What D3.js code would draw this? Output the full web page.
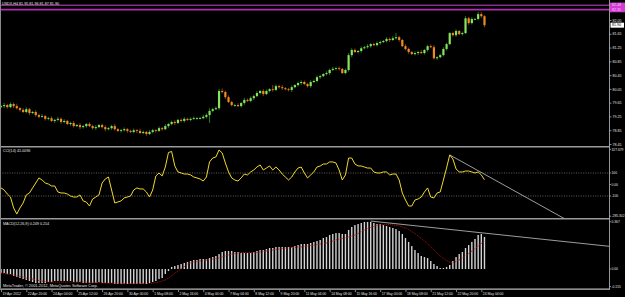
<!doctype html>
<html lang="en">
<head>
<meta charset="utf-8">
<title>USDX,H4</title>
<style>
  body { margin: 0; background: #000; }
  svg { display: block; }
  text { font-family: "Liberation Sans", sans-serif; fill: #e2e2e2; }
  .axis text { font-size: 3.6px; fill: #e2e2e2; }
  .axis line { stroke: #bdbdbd; stroke-width: 0.7; }
  .axis path { display: none; }
  .side text { font-size: 3.3px; }
  .lbl { font-size: 3.7px; }
</style>
</head>
<body>
<div class="chart"></div>
<script src="https://d3js.org/d3.v7.min.js"></script>
<script>
'use strict';

// ---- data ----
const firstOpen = 79.52;
const closes = [
  79.55,79.58,79.52,79.61,79.55,79.49,79.44,79.38,79.46,79.35,79.38,79.29,79.24,79.26,79.18,79.20,79.12,79.15,79.18,79.09,
  79.12,79.03,79.06,78.97,79.00,78.94,78.97,79.03,78.97,78.91,78.94,79.00,78.94,78.88,78.91,78.97,78.88,78.83,78.85,78.88,
  78.83,78.80,78.85,78.83,78.77,78.80,78.74,78.80,78.85,78.83,78.91,78.88,78.97,79.03,79.09,79.06,79.15,79.12,79.18,79.15,
  79.18,79.20,79.20,79.20,79.24,79.29,79.41,79.46,79.49,79.99,79.96,79.81,79.67,79.58,79.58,79.55,79.64,79.73,79.70,79.78,
  79.84,79.93,79.99,79.90,79.99,80.04,80.02,80.13,80.10,80.07,80.04,80.02,80.10,80.16,80.22,80.25,80.19,80.13,80.25,80.28,
  80.39,80.42,80.48,80.51,80.60,80.63,80.65,80.63,80.51,80.60,81.03,81.18,81.12,81.15,81.23,81.26,81.29,81.35,81.32,81.38,
  81.41,81.44,81.50,81.47,81.52,81.55,81.47,81.29,81.21,81.12,81.06,81.09,81.12,81.09,81.18,81.29,81.26,80.94,80.97,81.03,
  81.21,81.35,81.67,81.61,81.73,81.64,81.67,82.10,81.96,82.08,82.08,82.22,82.16,81.90
];
// wick lengths above / below the body, in pips (0.01)
const wickUp = [
  4,6,3,5,4,7,3,5,6,4,3,5,4,6,3,4,5,3,6,4,
  5,3,4,6,3,5,4,3,5,4,6,3,4,5,3,4,6,3,4,5,
  3,4,5,3,6,4,3,5,4,3,5,4,6,3,4,5,3,4,5,3,
  4,5,3,4,6,5,8,4,5,6,7,4,5,3,4,5,3,6,4,5,
  4,6,3,5,4,3,12,5,4,6,3,4,5,3,4,5,4,3,5,4,
  5,4,3,5,4,6,4,5,3,4,6,5,4,3,5,4,6,3,4,5,
  4,3,5,4,6,12,4,3,5,4,3,5,4,6,3,4,5,6,3,4,
  5,4,3,4,5,3,4,6,4,5,3,7,6,3
];
const wickDn = [
  3,5,4,3,6,4,5,3,4,6,3,5,4,3,5,4,3,6,4,5,
  4,3,5,4,3,6,4,5,3,4,5,3,4,6,3,5,4,3,5,4,
  5,3,4,6,3,4,5,3,4,5,3,4,3,5,4,6,3,4,5,3,
  4,3,5,4,3,5,23,4,3,5,4,6,3,4,5,3,4,5,3,4,
  5,3,4,6,3,4,5,3,4,5,3,4,6,3,4,5,3,4,5,3,
  4,5,3,4,6,3,4,5,3,4,5,6,3,4,5,3,4,5,3,4,
  5,3,4,6,3,4,5,3,4,5,3,4,6,3,4,5,3,4,5,3,
  4,5,3,4,5,3,4,3,5,4,3,4,5,6
];
const cci = [
  -30,-48,-83,-109,-204,-257,-204,-161,-91,-74,-30,13,57,39,13,4,-13,-13,-65,-74,
  -74,-83,-100,-109,-109,-91,-143,-152,-187,-126,-109,-91,13,48,65,-48,-161,-152,-143,-117,
  -109,-100,-48,-30,-39,-39,-65,-109,-48,74,100,74,152,278,287,161,109,100,91,91,
  83,65,57,48,30,65,196,230,239,300,274,187,109,57,39,30,57,91,83,109,
  126,152,170,126,143,161,126,152,126,91,65,39,65,109,143,152,100,57,83,109,
  152,161,178,178,196,196,187,126,39,83,230,230,178,161,161,152,143,143,109,100,
  100,109,109,83,91,91,39,-74,-135,-187,-187,-135,-126,-109,-65,-30,-109,-117,-74,-65,
  39,143,257,222,135,109,109,117,117,109,100,109,83,41.0096
];
const macdMain = [
  -0.031,-0.031,-0.039,-0.039,-0.054,-0.062,-0.070,-0.078,-0.085,-0.093,-0.101,-0.109,-0.109,-0.109,-0.109,-0.101,-0.101,-0.093,-0.093,-0.093,
  -0.093,-0.093,-0.093,-0.101,-0.101,-0.101,-0.109,-0.109,-0.109,-0.109,-0.109,-0.101,-0.109,-0.109,-0.109,-0.109,-0.116,-0.116,-0.116,-0.116,
  -0.116,-0.116,-0.116,-0.116,-0.116,-0.116,-0.116,-0.109,-0.101,-0.093,-0.078,-0.070,-0.039,-0.016,0.016,0.023,0.031,0.039,0.047,0.054,
  0.062,0.070,0.070,0.078,0.078,0.078,0.085,0.093,0.101,0.116,0.132,0.140,0.140,0.140,0.132,0.132,0.124,0.124,0.124,0.124,
  0.132,0.140,0.147,0.147,0.155,0.163,0.163,0.171,0.171,0.171,0.171,0.171,0.171,0.178,0.186,0.194,0.194,0.194,0.202,0.210,
  0.217,0.225,0.241,0.248,0.264,0.272,0.279,0.279,0.272,0.272,0.303,0.326,0.341,0.349,0.357,0.365,0.365,0.365,0.357,0.349,
  0.349,0.341,0.334,0.326,0.318,0.310,0.295,0.272,0.241,0.210,0.178,0.147,0.124,0.101,0.093,0.085,0.062,0.039,0.023,0.008,
  0.008,0.016,0.031,0.062,0.093,0.116,0.132,0.163,0.186,0.210,0.233,0.264,0.272,0.249
];
const macdSignal = [
  -0.031,-0.035,-0.039,-0.043,-0.047,-0.054,-0.058,-0.062,-0.070,-0.074,-0.078,-0.085,-0.089,-0.093,-0.097,-0.101,-0.101,-0.101,-0.101,-0.101,
  -0.101,-0.101,-0.101,-0.101,-0.101,-0.101,-0.101,-0.101,-0.105,-0.105,-0.105,-0.105,-0.105,-0.109,-0.109,-0.109,-0.109,-0.109,-0.113,-0.113,
  -0.113,-0.113,-0.113,-0.113,-0.113,-0.113,-0.113,-0.113,-0.109,-0.105,-0.101,-0.093,-0.085,-0.070,-0.054,-0.031,-0.016,0.000,0.019,0.039,
  0.047,0.054,0.058,0.062,0.066,0.070,0.074,0.078,0.081,0.085,0.093,0.101,0.109,0.116,0.120,0.124,0.128,0.128,0.128,0.128,
  0.128,0.128,0.132,0.136,0.140,0.144,0.147,0.151,0.155,0.159,0.163,0.163,0.167,0.167,0.171,0.171,0.175,0.178,0.182,0.186,
  0.190,0.194,0.198,0.202,0.210,0.217,0.225,0.233,0.237,0.241,0.248,0.256,0.264,0.275,0.291,0.303,0.314,0.322,0.330,0.338,
  0.341,0.345,0.345,0.345,0.341,0.338,0.334,0.326,0.318,0.307,0.291,0.275,0.256,0.237,0.217,0.194,0.171,0.147,0.124,0.101,
  0.081,0.066,0.054,0.050,0.058,0.070,0.085,0.101,0.120,0.140,0.159,0.178,0.198,0.214
];

const priceTicks = [82.05, 81.65, 81.25, 80.85, 80.45, 80.05, 79.65, 79.25, 78.85, 78.45];
const hLevels = [82.48, 82.35];
const cciTicks = [327.679, 100, 0, -100, -285.302];
const cciTickText = ['327.679', '100', '0.00', '-100', '-285.302'];
const cciLevels = [100, -100];
const macdTicks = [0.367, 0, -0.155];
const macdTickText = ['0.367', '0.00', '-0.155'];
const timeLabels = ['19 Apr 2012', '22 Apr 20:00', '24 Apr 04:00', '25 Apr 12:00', '26 Apr 20:00',
  '30 Apr 00:00', '1 May 08:00', '2 May 16:00', '4 May 00:00', '7 May 04:00', '8 May 12:00',
  '9 May 20:00', '11 May 04:00', '14 May 08:00', '15 May 16:00', '17 May 00:00', '18 May 08:00',
  '21 May 12:00', '22 May 20:00', '24 May 04:00'];
const barsPerLabel = 8;
// user drawn trend lines: [bar, value]
const cciTrend = [[142, 257], [178.5, -300]];
const macdTrend = [[117, 0.372], [192.5, 0.176]];

// ---- layout ----
const W = 625, H = 297;
const axisX = 609.5;
const mainP = {top: 0, bottom: 146};
const cciP = {top: 147.6, bottom: 218};
const macdP = {top: 219.6, bottom: 288.4};

const svg = d3.select('.chart').append('svg')
  .attr('width', W).attr('height', H);
svg.append('rect').attr('width', W).attr('height', H).attr('fill', '#000');

const x = d3.scaleLinear().domain([0, 192.5]).range([1, 1 + 192.5 * 3.16]);
const yPrice = d3.scaleLinear().domain([78.45, 82.05]).range([144, 20]);
const yCci = d3.scaleLinear().domain([-285.302, 327.679]).range([217.3, 146.8]);
const yMacd = d3.scaleLinear().domain([-0.155, 0.367]).range([289, 221.7]);

const defs = svg.append('defs');
function clip(id, p) {
  defs.append('clipPath').attr('id', id)
    .append('rect').attr('x', 0).attr('y', p.top).attr('width', axisX).attr('height', p.bottom - p.top);
  return svg.append('g').attr('clip-path', `url(#${id})`);
}

// ---- main price panel ----
const gMain = clip('cm', mainP);

gMain.selectAll('.hl').data(hLevels).enter().append('line')
  .attr('x1', 0).attr('x2', axisX)
  .attr('y1', d => yPrice(d)).attr('y2', d => yPrice(d))
  .attr('stroke', (d, i) => i === 0 ? '#c844c8' : '#b02cb0')
  .attr('stroke-width', (d, i) => i === 0 ? 1 : 1.8);

const candles = closes.map((c, i) => {
  const o = i === 0 ? firstOpen : closes[i - 1];
  return {
    i: i, o: o, c: c,
    h: Math.max(o, c) + wickUp[i] / 100,
    l: Math.min(o, c) - wickDn[i] / 100
  };
});

const cg = gMain.selectAll('.candle').data(candles).enter().append('g');
cg.append('line')
  .attr('x1', d => x(d.i)).attr('x2', d => x(d.i))
  .attr('y1', d => yPrice(d.h)).attr('y2', d => yPrice(d.l))
  .attr('stroke', d => d.c >= d.o ? '#2f9a2c' : '#a85a14')
  .attr('stroke-width', 0.8);
cg.append('rect')
  .attr('x', d => x(d.i) - 1.1)
  .attr('width', 2.2)
  .attr('y', d => yPrice(Math.max(d.o, d.c)))
  .attr('height', d => Math.max(0.8, Math.abs(yPrice(d.o) - yPrice(d.c))))
  .attr('fill', d => d.c >= d.o ? '#86e45c' : '#f08a20');

// ---- CCI panel ----
const gCci = clip('cc', cciP);
gCci.selectAll('.lvl').data(cciLevels).enter().append('line')
  .attr('x1', 0).attr('x2', axisX)
  .attr('y1', d => yCci(d)).attr('y2', d => yCci(d))
  .attr('stroke', '#8c8c8c').attr('stroke-width', 0.7)
  .attr('stroke-dasharray', '1,1.4');
gCci.append('path').datum(cci)
  .attr('fill', 'none').attr('stroke', '#f0d82a').attr('stroke-width', 1)
  .attr('stroke-linejoin', 'round')
  .attr('d', d3.line().x((d, i) => x(i)).y(d => yCci(d)));
gCci.append('line')
  .attr('x1', x(cciTrend[0][0])).attr('y1', yCci(cciTrend[0][1]))
  .attr('x2', x(cciTrend[1][0])).attr('y2', yCci(cciTrend[1][1]))
  .attr('stroke', '#c4c4c4').attr('stroke-width', 0.8);

// ---- MACD panel ----
const gMacd = clip('cmd', macdP);
gMacd.selectAll('.bar').data(macdMain).enter().append('rect')
  .attr('x', (d, i) => x(i) - 0.7)
  .attr('width', 1.4)
  .attr('y', d => yMacd(Math.max(0, d)))
  .attr('height', d => Math.abs(yMacd(d) - yMacd(0)))
  .attr('fill', '#d4d4d4');
gMacd.append('path').datum(macdSignal)
  .attr('fill', 'none').attr('stroke', '#b01010').attr('stroke-width', 0.9)
  .attr('stroke-dasharray', '1.2,0.9')
  .attr('d', d3.line().x((d, i) => x(i)).y(d => yMacd(d)));
gMacd.append('line')
  .attr('x1', x(macdTrend[0][0])).attr('y1', yMacd(macdTrend[0][1]))
  .attr('x2', x(macdTrend[1][0])).attr('y2', yMacd(macdTrend[1][1]))
  .attr('stroke', '#c4c4c4').attr('stroke-width', 0.8);

// ---- frame ----
[mainP.bottom, cciP.bottom, macdP.bottom].forEach(yy => {
  svg.append('rect').attr('x', 0).attr('y', yy).attr('width', axisX).attr('height', 1.5)
    .attr('fill', '#9a9a9a');
});
svg.append('line').attr('x1', 0.5).attr('x2', 0.5).attr('y1', 0).attr('y2', macdP.bottom)
  .attr('stroke', '#8a8a8a').attr('stroke-width', 1);
svg.append('line').attr('x1', axisX).attr('x2', axisX).attr('y1', 0).attr('y2', macdP.bottom + 1.5)
  .attr('stroke', '#bdbdbd').attr('stroke-width', 0.8);

// ---- right price axis ----
svg.append('g').attr('class', 'axis')
  .attr('transform', `translate(${axisX},0)`)
  .call(d3.axisRight(yPrice).tickValues(priceTicks).tickSize(2).tickPadding(1)
    .tickFormat(d3.format('.2f')));

// horizontal level box
const hlTop = yPrice(hLevels[0]) - 2.6, hlBot = yPrice(hLevels[1]) + 2.6;
svg.append('rect').attr('x', axisX + 0.5).attr('y', hlTop).attr('width', W - axisX)
  .attr('height', hlBot - hlTop).attr('fill', '#d23cd2');
svg.selectAll('.hlt').data(hLevels).enter().append('text')
  .attr('x', axisX + 2.5).attr('y', d => yPrice(d)).attr('dy', '0.35em')
  .style('font-size', '3.6px').style('fill', '#f4d0f4')
  .text(d => d3.format('.2f')(d));

// current price box
const last = closes[closes.length - 1];
svg.append('rect').attr('x', axisX + 1).attr('y', yPrice(last) - 2.5).attr('width', 13.5)
  .attr('height', 5).attr('fill', '#fff');
svg.append('text').attr('x', axisX + 2.5).attr('y', yPrice(last)).attr('dy', '0.35em')
  .style('font-size', '3.6px').style('fill', '#000')
  .text(d3.format('.2f')(last));

// indicator axis labels
function sideLabels(ticks, texts, scale, p) {
  const g = svg.append('g').attr('class', 'axis side');
  ticks.forEach((v, i) => {
    const yy = Math.max(p.top + 1.8, Math.min(p.bottom - 1.8, scale(v)));
    g.append('line').attr('x1', axisX).attr('x2', axisX + 1.5).attr('y1', yy).attr('y2', yy);
    g.append('text').attr('x', axisX + 2).attr('y', yy).attr('dy', '0.35em').text(texts[i]);
  });
}
sideLabels(cciTicks, cciTickText, yCci, cciP);
sideLabels(macdTicks, macdTickText, yMacd, macdP);

// ---- time axis ----
const tAxis = svg.append('g').attr('class', 'axis')
  .attr('transform', `translate(0,${macdP.bottom + 1.5})`)
  .call(d3.axisBottom(x).tickValues(timeLabels.map((d, i) => i * barsPerLabel))
    .tickSize(2.2).tickPadding(0.6).tickFormat((d, i) => timeLabels[i]));
tAxis.selectAll('text').attr('text-anchor', 'start').attr('x', 1).style('font-size', '3.4px');

// ---- captions ----
svg.append('text').attr('class', 'lbl').attr('x', 2).attr('y', 5.2)
  .text('USDX,H4  81.95 81.96 81.87 81.90');
svg.append('text').attr('class', 'lbl').attr('x', 3).attr('y', 152)
  .text('CCI(14) 41.0096');
svg.append('text').attr('class', 'lbl').attr('x', 3).attr('y', 224.8)
  .text('MACD(12,26,9) 0.249 0.214');
svg.append('text').attr('class', 'lbl').attr('x', 3).attr('y', 287.3)
  .style('font-size', '3.9px')
  .text('MetaTrader, \u00a9 2001-2012, MetaQuotes Software Corp.');
</script>
</body>
</html>
